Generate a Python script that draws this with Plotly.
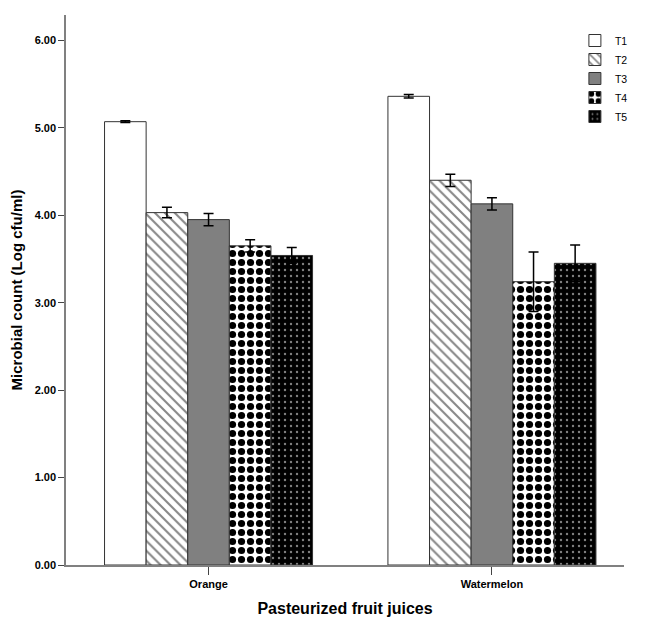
import plotly.graph_objects as go

categories = ["Orange", "Watermelon"]
series_names = ["T1", "T2", "T3", "T4", "T5"]
values = {
    "T1": [5.07, 5.36],
    "T2": [4.03, 4.40],
    "T3": [3.95, 4.13],
    "T4": [3.65, 3.24],
    "T5": [3.54, 3.45],
}
errors = {
    "T1": [0.01, 0.02],
    "T2": [0.06, 0.07],
    "T3": [0.07, 0.07],
    "T4": [0.07, 0.34],
    "T5": [0.09, 0.21],
}
y_ticks = [0, 1, 2, 3, 4, 5, 6]

styles = {
    "T1": dict(color="white", pattern=dict(shape="")),
    "T2": dict(color="white", pattern=dict(shape="\\", fgcolor="#111", bgcolor="white", size=7, solidity=0.3)),
    "T3": dict(color="#808080", pattern=dict(shape="")),
    "T4": dict(color="white", pattern=dict(shape=".", fgcolor="black", bgcolor="white", size=9, solidity=0.5, fgopacity=1)),
    "T5": dict(color="black", pattern=dict(shape=".", fgcolor="white", bgcolor="black", size=6, solidity=0.12)),
}

xpos = list(range(len(categories)))
fig = go.Figure()
for name in series_names:
    st = styles[name]
    fig.add_trace(go.Bar(
        x=xpos, y=values[name], name=name,
        marker=dict(color=st["color"], pattern=st["pattern"],
                    line=dict(color="#333333", width=1)),
        error_y=dict(type="data", array=errors[name], color="black", thickness=1.5, width=5),
    ))

font_family = "Liberation Sans, Arial, sans-serif"
fig.update_layout(
    width=630, height=610,
    barmode="group", bargap=0.266, bargroupgap=0,
    plot_bgcolor="white", paper_bgcolor="white",
    margin=dict(l=58, r=14, t=7, b=53, autoexpand=False),
    font=dict(family=font_family, color="black"),
    showlegend=True,
    legend=dict(x=0.912, y=0.98, xanchor="left", yanchor="top", font=dict(size=10.5),
                bgcolor="rgba(0,0,0,0)", tracegroupgap=0, itemwidth=30),
    xaxis=dict(
        range=[-0.503, 1.466], tickvals=xpos, ticktext=categories, automargin=False,
        showline=True, linecolor="#808080", linewidth=1.5,
        ticks="outside", ticklen=8, tickcolor="#444", showgrid=False, zeroline=False,
        tickfont=dict(size=11, weight="bold"),
        title=dict(text="Pasteurized fruit juices", font=dict(size=16, weight="bold"), standoff=14),
    ),
    yaxis=dict(
        range=[0, 6.29], tickvals=y_ticks, tickformat=".2f", automargin=False,
        showline=True, linecolor="#808080", linewidth=1.5,
        ticks="outside", ticklen=6, tickcolor="#444", showgrid=False, zeroline=False,
        tickfont=dict(size=11, weight="bold"),
        title=dict(text="Microbial count (Log cfu/ml)", font=dict(size=15, weight="bold"), standoff=8),
    ),
)
fig.write_html("out.html")
